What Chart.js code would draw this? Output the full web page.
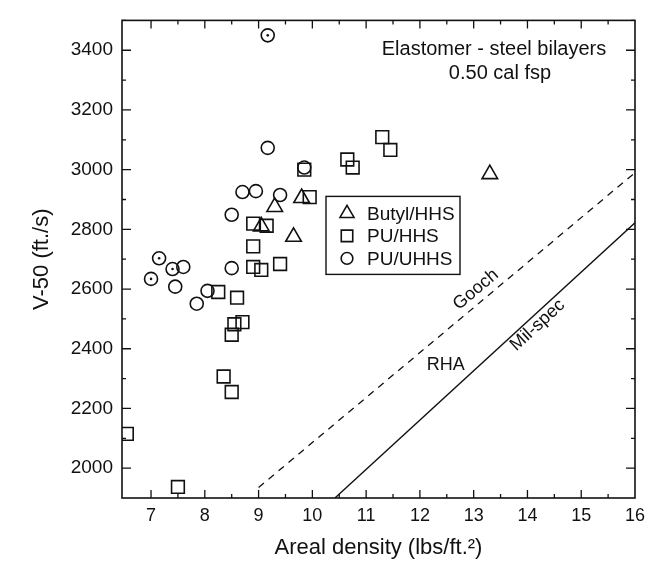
<!DOCTYPE html>
<html>
<head>
<meta charset="utf-8">
<title>V-50 vs areal density</title>
<script src="https://cdn.jsdelivr.net/npm/chart.js@4.4.1/dist/chart.umd.min.js"></script>
<style>
  html, body { margin: 0; padding: 0; background: #fff; }
</style>
</head>
<body>
<canvas id="v50-chart" width="670" height="561"></canvas>
<script>
// --- data ---
const butylX = [9.05, 9.3, 9.8, 9.65, 13.3];
const butylY = [2810, 2875, 2905, 2775, 2985];

const puHhsX = [6.55, 7.5, 8.25, 8.35, 8.5, 8.5, 8.55, 8.7, 8.6, 8.9, 9.05, 9.4, 8.9, 8.9, 9.15, 9.85, 9.95, 10.65, 10.75, 11.3, 11.45];
const puHhsY = [2115, 1937, 2590, 2307, 2255, 2447, 2482, 2489, 2571, 2674, 2664, 2684, 2743, 2819, 2812, 3000, 2908, 3034, 3007, 3109, 3066];

const puUhhsX = [7.0, 7.15, 7.4, 7.6, 7.45, 7.85, 8.05, 8.5, 8.5, 8.7, 8.95, 9.4, 9.17, 9.85, 9.17];
const puUhhsY = [2634, 2703, 2667, 2674, 2608, 2551, 2594, 2670, 2849, 2925, 2928, 2915, 3073, 3007, 3450];
// circles drawn with a centre dot
const dottedX = [7.0, 7.15, 7.4, 9.17];
const dottedY = [2634, 2703, 2667, 3450];

// reference lines
const goochX = [9.0, 16];
const goochY = [1935, 2990];
const milSpecX = [10.42, 16];
const milSpecY = [1900, 2822];

const xTicks = [7, 8, 9, 10, 11, 12, 13, 14, 15, 16];
const yTicks = [2000, 2200, 2400, 2600, 2800, 3000, 3200, 3400];

const ink = "#111";
const fontFamily = "'Liberation Sans', Arial, sans-serif";

const toPoints = (xs, ys) => xs.map((x, i) => ({ x, y: ys[i] }));

// frame, inward ticks on all four sides, line labels, notes and legend
const decorations = {
  id: "decorations",
  afterDatasetsDraw(chart) {
    const { ctx, chartArea: a, scales: { x, y } } = chart;
    ctx.save();
    ctx.strokeStyle = ink;
    ctx.fillStyle = ink;

    // frame
    ctx.lineWidth = 1.6;
    ctx.strokeRect(a.left, a.top, a.right - a.left, a.bottom - a.top);

    // ticks
    ctx.lineWidth = 1.3;
    ctx.beginPath();
    for (let v = 7; v <= 15.5; v += 0.5) {
      const px = x.getPixelForValue(v);
      const len = v % 1 === 0 ? 8 : 4;
      ctx.moveTo(px, a.bottom); ctx.lineTo(px, a.bottom - len);
      ctx.moveTo(px, a.top); ctx.lineTo(px, a.top + len);
    }
    for (let v = 2000; v <= 3500; v += 100) {
      const py = y.getPixelForValue(v);
      const len = v % 200 === 0 ? 9 : 4;
      ctx.moveTo(a.left, py); ctx.lineTo(a.left + len, py);
      ctx.moveTo(a.right, py); ctx.lineTo(a.right - len, py);
    }
    ctx.stroke();

    // line labels, rotated along their lines
    const angleOf = (xs, ys) => Math.atan2(
      y.getPixelForValue(ys[1]) - y.getPixelForValue(ys[0]),
      x.getPixelForValue(xs[1]) - x.getPixelForValue(xs[0])
    );
    const label = (text, vx, vy, angle) => {
      ctx.save();
      ctx.translate(x.getPixelForValue(vx), y.getPixelForValue(vy));
      ctx.rotate(angle);
      ctx.textAlign = "center";
      ctx.textBaseline = "middle";
      ctx.fillText(text, 0, 0);
      ctx.restore();
    };
    ctx.font = "18px " + fontFamily;
    label("Gooch", 13.04, 2598, angleOf(goochX, goochY));
    label("RHA", 12.48, 2347, 0);
    label("Mil-spec", 14.19, 2479, angleOf(milSpecX, milSpecY));

    // note in upper right
    ctx.font = "20px " + fontFamily;
    ctx.textAlign = "center";
    ctx.textBaseline = "middle";
    ctx.fillText("Elastomer - steel bilayers", a.left + 372, a.top + 29);
    ctx.fillText("0.50 cal fsp", a.left + 378, a.top + 53);

    // legend box
    const bx = a.left + 204, by = a.top + 176, bw = 134, bh = 78;
    ctx.fillStyle = "#fff";
    ctx.fillRect(bx, by, bw, bh);
    ctx.lineWidth = 1.4;
    ctx.strokeRect(bx, by, bw, bh);
    const items = chart.data.datasets.filter(d => d.inLegend);
    ctx.font = "19px " + fontFamily;
    ctx.textAlign = "left";
    items.forEach((d, i) => {
      const ry = by + 17 + i * 22.5;
      ctx.lineWidth = d.borderWidth;
      ctx.fillStyle = "#fff";
      Chart.helpers.drawPoint(ctx, {
        pointStyle: d.pointStyle, radius: d.pointRadius * 0.9, rotation: 0, borderWidth: d.borderWidth
      }, bx + 21, ry);
      ctx.fillStyle = ink;
      ctx.fillText(d.label, bx + 41, ry + 1);
    });
    ctx.restore();
  }
};

const markerBase = {
  backgroundColor: "rgba(255,255,255,0)",
  borderColor: ink,
  borderWidth: 1.6,
  showLine: false,
  inLegend: true
};

new Chart(document.getElementById("v50-chart").getContext("2d"), {
  type: "scatter",
  data: {
    datasets: [
      { ...markerBase, label: "Butyl/HHS", data: toPoints(butylX, butylY), pointStyle: "triangle", pointRadius: 9 },
      { ...markerBase, label: "PU/HHS", data: toPoints(puHhsX, puHhsY), pointStyle: "rect", pointRadius: 9 },
      { ...markerBase, label: "PU/UHHS", data: toPoints(puUhhsX, puUhhsY), pointStyle: "circle", pointRadius: 6.5 },
      { label: "dots", data: toPoints(dottedX, dottedY), pointStyle: "circle", pointRadius: 1.3,
        backgroundColor: ink, borderWidth: 0, showLine: false },
      { label: "Gooch", data: toPoints(goochX, goochY), showLine: true, pointRadius: 0,
        borderColor: ink, borderWidth: 1.3, borderDash: [7, 6] },
      { label: "Mil-spec", data: toPoints(milSpecX, milSpecY), showLine: true, pointRadius: 0,
        borderColor: ink, borderWidth: 1.4 }
    ]
  },
  options: {
    responsive: false,
    animation: false,
    devicePixelRatio: 1,
    layout: { padding: { top: 12, right: 35, left: 0, bottom: 0 } },
    plugins: { legend: { display: false }, tooltip: { enabled: false } },
    scales: {
      x: {
        type: "linear",
        min: 6.46,
        max: 16,
        afterBuildTicks: (scale) => { scale.ticks = xTicks.map(v => ({ value: v })); },
        afterFit: (scale) => { scale.height = 63; },
        grid: { display: false, drawTicks: false },
        border: { display: false },
        ticks: { color: ink, padding: 7, font: { family: fontFamily, size: 18 },
          callback: (v) => String(v) },
        title: { display: true, text: "Areal density (lbs/ft.\u00b2)", color: ink,
          padding: { top: 0, bottom: 0 }, font: { family: fontFamily, size: 22 } }
      },
      y: {
        type: "linear",
        min: 1900,
        max: 3500,
        afterBuildTicks: (scale) => { scale.ticks = yTicks.map(v => ({ value: v })); },
        afterFit: (scale) => { scale.width = 122; },
        grid: { display: false, drawTicks: false },
        border: { display: false },
        ticks: { color: ink, padding: 9, font: { family: fontFamily, size: 19 },
          callback: (v) => String(v) },
        title: { display: true, text: "V-50 (ft./s)", color: ink,
          padding: { top: 29, bottom: 0 }, font: { family: fontFamily, size: 22 } }
      }
    }
  },
  plugins: [decorations]
});
</script>
</body>
</html>
